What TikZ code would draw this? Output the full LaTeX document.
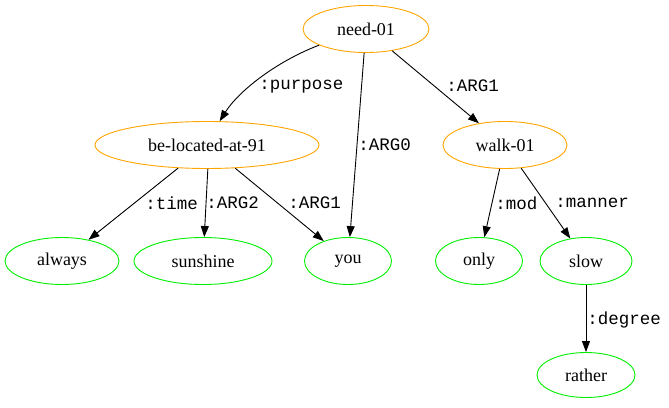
\documentclass[tikz,border=0pt]{standalone}
\usepackage{fontspec}
\setmainfont{Liberation Serif}
\setmonofont{Liberation Mono}
\usetikzlibrary{shapes.geometric,arrows.meta}
\definecolor{concept}{HTML}{FFA500}
\definecolor{leaf}{HTML}{00EE00}
\begin{document}
\begin{tikzpicture}[x=1pt,y=-1pt,
  amr/.style={ellipse,draw,line width=0.9pt,inner sep=0pt,
    font=\fontsize{18}{20}\selectfont},
  pred/.style={amr,draw=concept},
  ent/.style={amr,draw=leaf},
  rel/.style={-{Triangle[length=11pt,width=8pt]},line width=0.9pt},
  lab/.style={font=\ttfamily\fontsize{17.5}{20}\selectfont,inner sep=0pt,anchor=west}]
\useasboundingbox (0,0) rectangle (669,407);
% concepts
\node[pred,minimum width=126,minimum height=47] (need) at (366,29) {need-01};
\node[pred,minimum width=224,minimum height=47] (bel) at (207,145) {be-located-at-91};
\node[pred,minimum width=124,minimum height=47] (walk) at (505,145) {walk-01};
% leaves
\node[ent,minimum width=114,minimum height=47] (always) at (62,261) {always};
\node[ent,minimum width=138,minimum height=47] (sun) at (203,261) {sunshine};
\node[ent,minimum width=87,minimum height=47] (you) at (348,261) {you};
\node[ent,minimum width=87,minimum height=47] (only) at (479,261) {only};
\node[ent,minimum width=92,minimum height=47] (slow) at (586,261) {slow};
\node[ent,minimum width=98,minimum height=45] (rather) at (586,375) {rather};
% relations
\draw[rel] (need.199) .. controls (275,62) and (238,92) .. (bel.62)
  node[lab] at (259,87) {:purpose};
\draw[rel] (need) -- (you) node[lab] at (358,145) {:ARG0};
\draw[rel] (need) -- (walk) node[lab] at (446,86) {:ARG1};
\draw[rel] (bel) -- (always) node[lab] at (145,203) {:time};
\draw[rel] (bel.-88) -- (sun) node[lab] at (206,203) {:ARG2};
\draw[rel] (bel) -- (you) node[lab] at (288,203) {:ARG1};
\draw[rel] (walk) -- (only) node[lab] at (495,203) {:mod};
\draw[rel] (walk) -- (slow) node[lab] at (555,203) {:manner};
\draw[rel] (slow) -- (rather) node[lab] at (587,320) {:degree};
\end{tikzpicture}
\end{document}
